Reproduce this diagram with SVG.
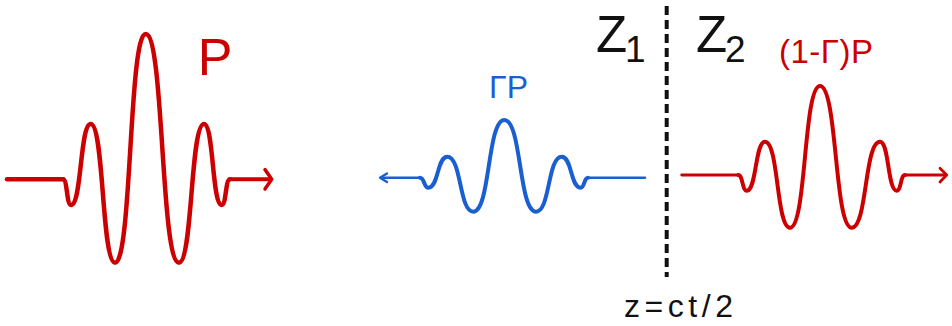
<svg xmlns="http://www.w3.org/2000/svg" width="952" height="326" viewBox="0 0 952 326">
<style>
.red{stroke:#cc0000;fill:none;stroke-linecap:round;stroke-linejoin:round}
.blue{stroke:#1a5fd2;fill:none;stroke-linecap:round;stroke-linejoin:round}
text{font-family:'Liberation Sans',Arial,sans-serif}
.blk{fill:#111}
</style>
<rect width="952" height="326" fill="#fff"/>
<g id="interface">
<line x1="666.7" y1="6" x2="666.7" y2="277" stroke="#111" stroke-width="4" stroke-dasharray="9 5"/>
</g>
<g id="connectors">
<path class="red" stroke-width="4.5" d="M7,179.3 H63"/>
<path class="red" stroke-width="4" d="M230,179.3 H270"/>
<polyline class="red" stroke-width="3.5" points="265,169.6 271.7,179.3 265,189"/>
<path class="blue" stroke-width="2.4" d="M420,177.7 H381"/>
<polyline class="blue" stroke-width="2.4" points="387,173.5 380,177.7 387,182"/>
<path class="blue" stroke-width="2.4" d="M588,177.7 H645"/>
<path class="red" stroke-width="2.8" d="M681.7,175 H738.3"/>
<path class="red" stroke-width="2.8" d="M905,175 H946"/>
<polyline class="red" stroke-width="2.8" points="940,168.3 946.7,175 940,182"/>
</g>
<g id="incident-pulse">
<path class="red" stroke-width="4.5" d="M63,179.3 C67.4,179.3 66.6,205 71,205 C81.8,205 79.9,124 90.7,124 C104.1,124 101.6,262.7 115,262.7 C131.9,262.7 128.8,34 145.7,34 C164,34 160.7,262.7 179,262.7 C192.75,262.7 190.25,124 204,124 C213.7,124 212,205 221.7,205 C226.3,205 225.4,179.3 230,179.3"/>
<text x="197.7" y="75" font-size="52" fill="#cc0000">P</text>
</g>
<g id="reflected-pulse">
<path class="blue" stroke-width="4" d="M420,177.7 C424.6,177.7 423.7,187.7 428.3,187.7 C438.75,187.7 436.85,156.7 447.3,156.7 C461.6,156.7 459,211.7 473.3,211.7 C490.3,211.7 487.3,120 504.3,120 C521.7,120 518.6,211.7 536,211.7 C550.1,211.7 547.6,156.7 561.7,156.7 C572.15,156.7 570.25,187.7 580.7,187.7 C584.7,187.7 584,177.7 588,177.7"/>
<text x="489" y="98" font-size="32" fill="#1a5fd2">ΓP</text>
</g>
<g id="transmitted-pulse">
<path class="red" stroke-width="4" d="M738.3,175 C742.9,175 742.1,190.7 746.7,190.7 C756.7,190.7 755,141.7 765,141.7 C778.75,141.7 776.25,227.7 790,227.7 C806.5,227.7 803.5,86 820,86 C837.4,86 834.3,227.7 851.7,227.7 C867.3,227.7 864.4,141.7 880,141.7 C889.2,141.7 887.5,190.7 896.7,190.7 C901.3,190.7 900.4,175 905,175"/>
<text x="779" y="63" font-size="33" textLength="94" fill="#cc0000">(1-Γ)P</text>
</g>
<g id="labels">
<text class="blk" x="596" y="51.7" font-size="51">Z</text>
<text class="blk" x="625" y="61.7" font-size="37">1</text>
<text class="blk" x="696" y="51.7" font-size="51">Z</text>
<text class="blk" x="725" y="61.7" font-size="37">2</text>
<text class="blk" x="624" y="316.7" font-size="32" textLength="109">z=ct/2</text>
</g>
</svg>
